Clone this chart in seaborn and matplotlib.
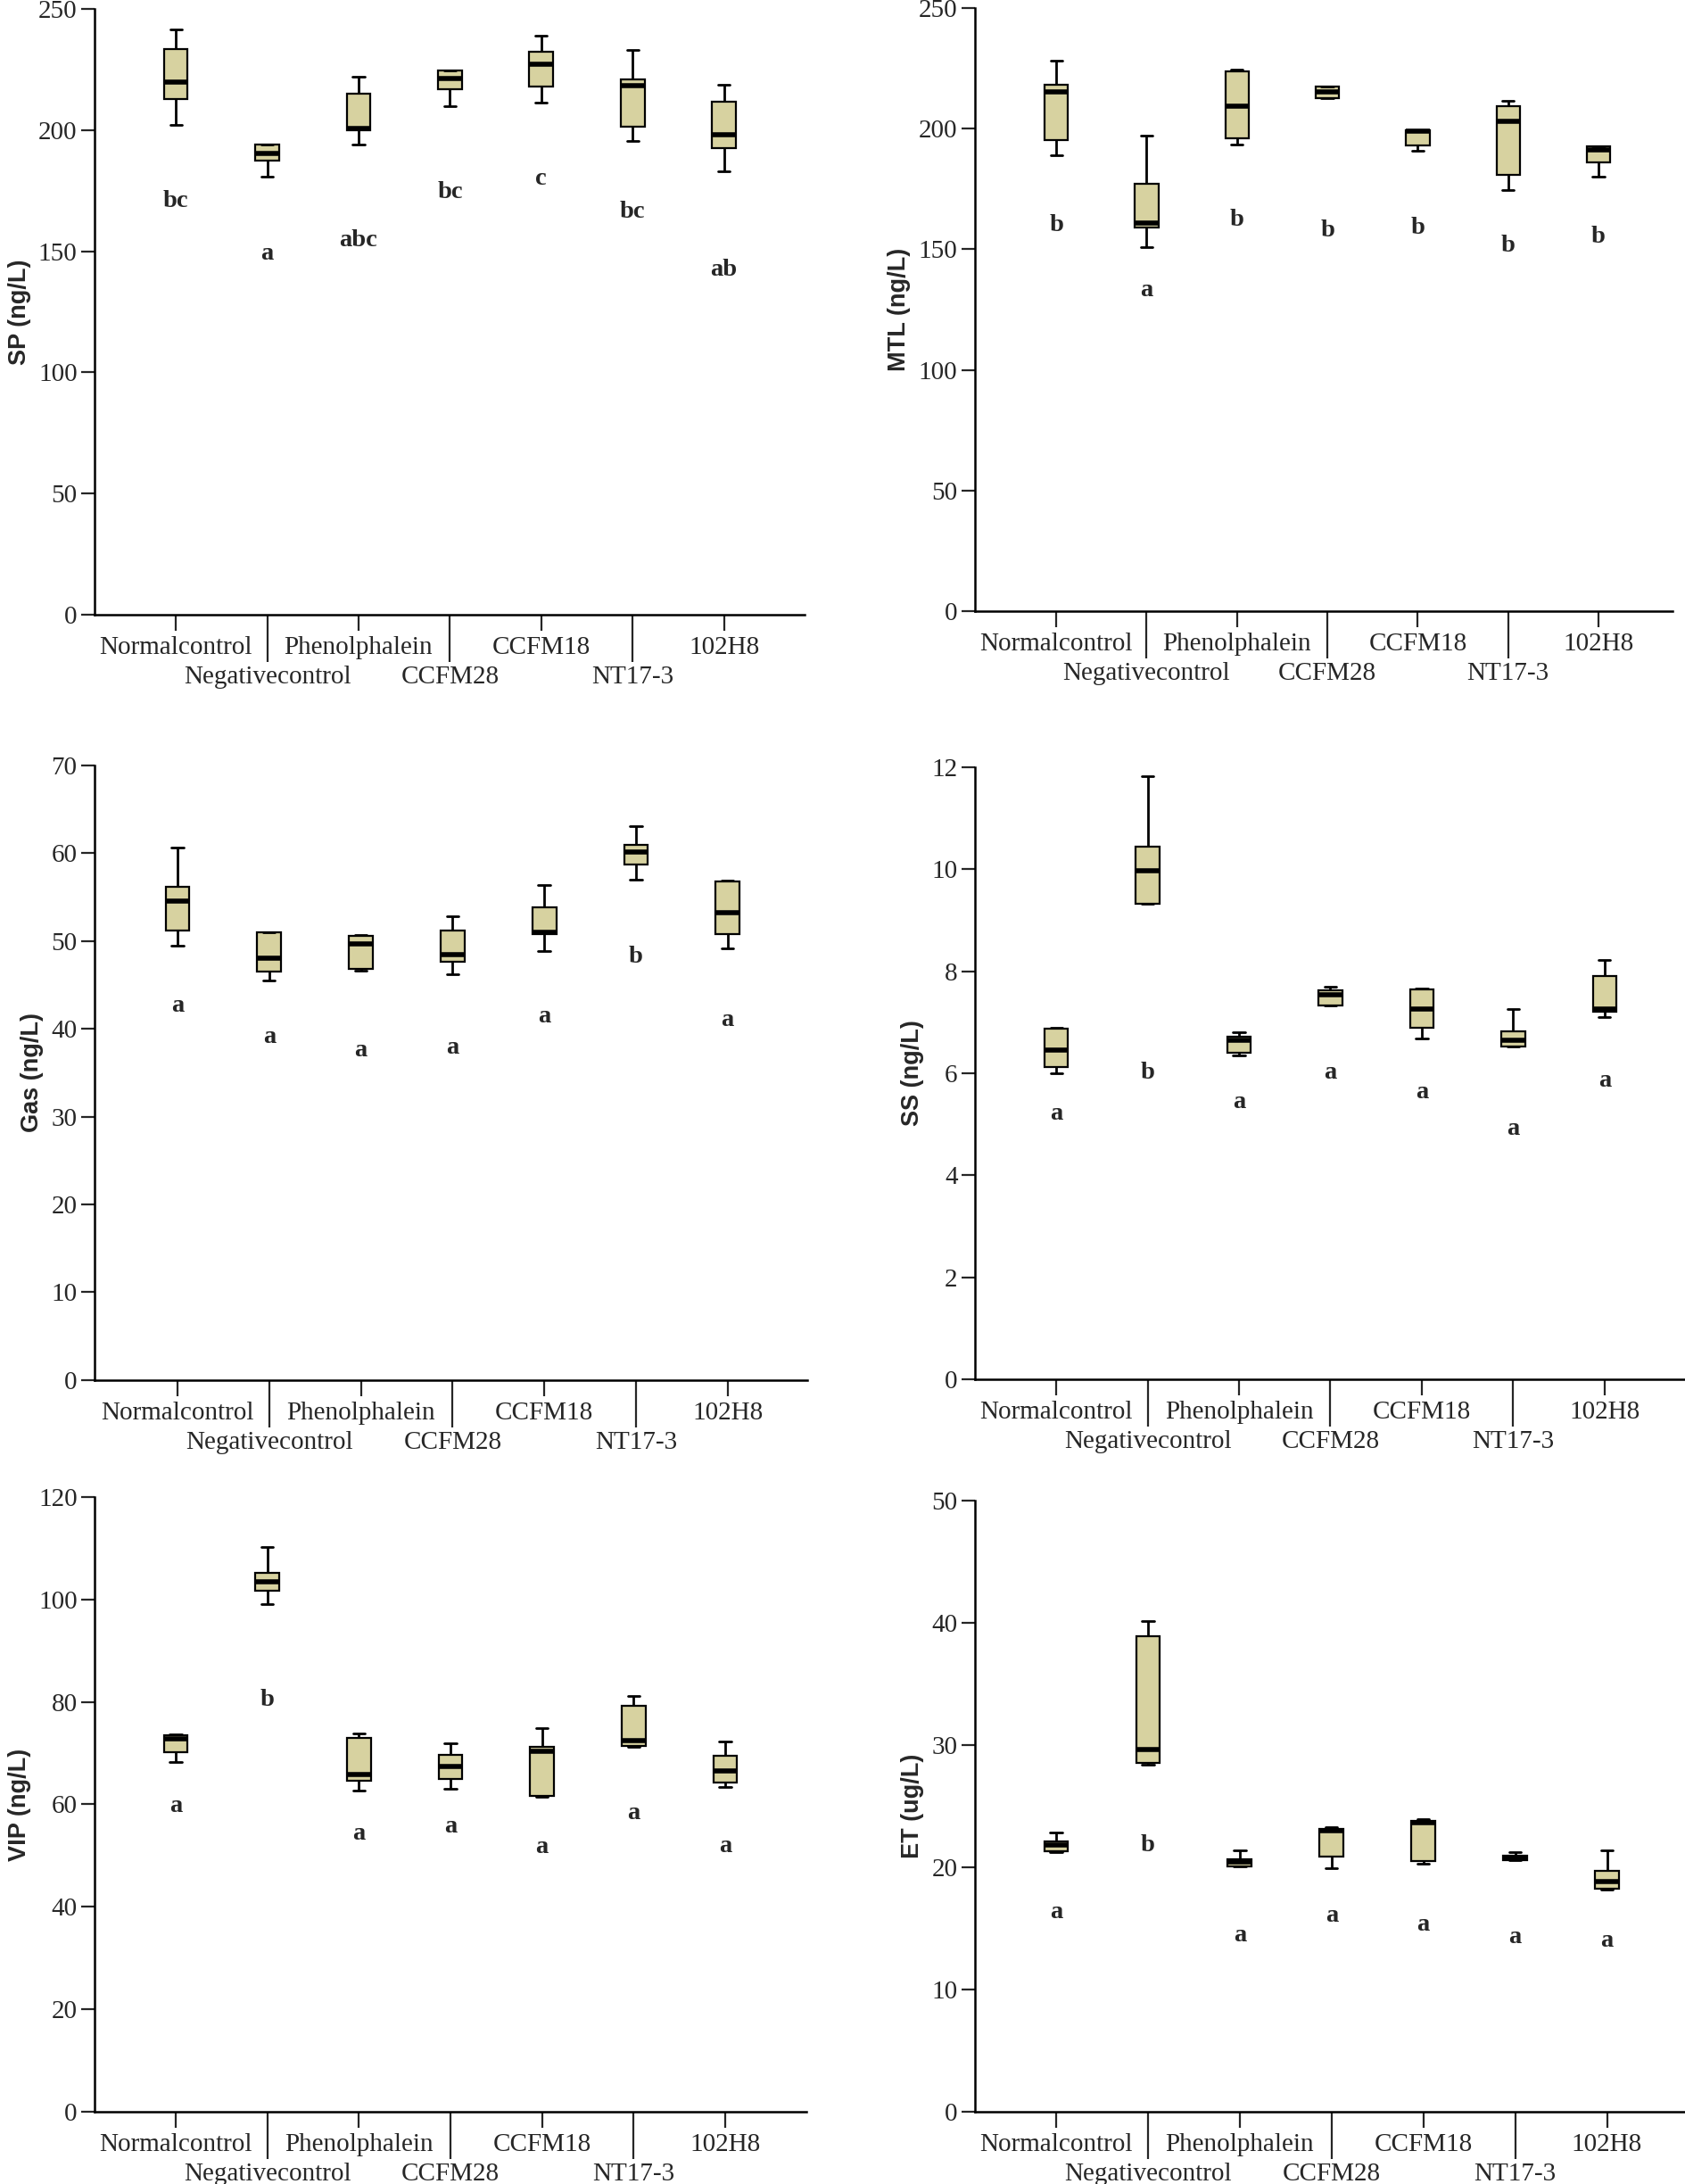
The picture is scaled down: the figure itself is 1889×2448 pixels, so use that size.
import numpy as np
import pandas as pd
import seaborn as sns
import matplotlib.pyplot as plt

groups = ["Normalcontrol", "Negativecontrol", "Phenolphalein", "CCFM28",
          "CCFM18", "NT17-3", "102H8"]

# per group: lower whisker, Q1, median, Q3, upper whisker
sp_vals = [[202.0, 212.7, 220.0, 233.6, 241.7],
           [180.7, 187.3, 190.3, 193.9, 193.9],
           [194.2, 200.0, 200.5, 215.0, 221.9],
           [209.9, 217.0, 221.4, 224.6, 224.6],
           [211.2, 218.0, 227.2, 232.3, 238.9],
           [195.6, 201.4, 218.5, 221.0, 233.0],
           [183.1, 192.7, 198.2, 211.6, 218.9]]
sp_letters = ["bc", "a", "abc", "bc", "c", "bc", "ab"]
sp_letter_y = [170.5, 148.8, 154.5, 174.3, 179.9, 166.2, 142.2]

mtl_vals = [[189.1, 195.1, 215.3, 218.3, 228.2],
            [150.9, 158.9, 161.0, 177.3, 197.0],
            [193.6, 196.1, 209.2, 223.6, 224.6],
            [212.6, 212.6, 215.3, 217.5, 217.5],
            [190.8, 193.1, 198.9, 199.5, 199.5],
            [174.5, 180.9, 203.1, 209.4, 211.5],
            [180.1, 186.0, 191.2, 192.7, 192.7]]
mtl_letters = ["b", "a", "b", "b", "b", "b", "b"]
mtl_letter_y = [160.0, 132.9, 162.3, 157.9, 158.9, 151.5, 155.1]

gas_vals = [[49.5, 51.2, 54.5, 56.2, 60.6],
            [45.5, 46.5, 48.0, 51.0, 51.0],
            [46.6, 46.8, 49.7, 50.6, 50.7],
            [46.2, 47.6, 48.4, 51.2, 52.8],
            [48.8, 50.8, 51.0, 53.8, 56.4],
            [57.0, 58.7, 60.1, 60.9, 63.1],
            [49.2, 50.8, 53.2, 56.8, 56.9]]
gas_letters = ["a", "a", "a", "a", "a", "b", "a"]
gas_letter_y = [42.6, 39.0, 37.5, 37.8, 41.4, 48.2, 41.0]

ss_vals = [[6.00, 6.12, 6.46, 6.87, 6.89],
           [9.32, 9.32, 9.97, 10.44, 11.82],
           [6.35, 6.41, 6.64, 6.71, 6.81],
           [7.32, 7.32, 7.53, 7.62, 7.69],
           [6.68, 6.89, 7.25, 7.65, 7.66],
           [6.52, 6.52, 6.65, 6.83, 7.25],
           [7.10, 7.21, 7.26, 7.91, 8.22]]
ss_letters = ["a", "b", "a", "a", "a", "a", "a"]
ss_letter_y = [5.2, 6.0, 5.43, 6.01, 5.62, 4.9, 5.85]

vip_vals = [[68.2, 70.2, 72.8, 73.5, 73.7],
            [99.1, 101.7, 103.4, 105.2, 110.2],
            [62.6, 64.6, 65.8, 73.0, 73.9],
            [63.1, 65.0, 67.3, 69.7, 72.0],
            [61.5, 61.6, 70.4, 71.2, 74.9],
            [71.2, 71.4, 72.5, 79.3, 81.1],
            [63.4, 64.2, 66.5, 69.4, 72.2]]
vip_letters = ["a", "b", "a", "a", "a", "a", "a"]
vip_letter_y = [59.6, 80.4, 54.3, 55.6, 51.7, 58.3, 51.8]

et_vals = [[21.27, 21.34, 21.79, 22.09, 22.84],
           [28.40, 28.54, 29.66, 38.88, 40.15],
           [20.04, 20.04, 20.41, 20.67, 21.42],
           [19.96, 20.86, 22.99, 23.13, 23.28],
           [20.30, 20.52, 23.66, 23.81, 23.96],
           [20.60, 20.60, 20.78, 20.97, 21.27],
           [18.17, 18.28, 18.81, 19.74, 21.42]]
et_letters = ["a", "b", "a", "a", "a", "a", "a"]
et_letter_y = [16.3, 21.8, 14.4, 16.0, 15.3, 14.3, 13.96]

panels = [
    ("SP (ng/L)", sp_vals, sp_letters, sp_letter_y, 250, 50,
     [0.0561, 0.7185, 0.421, 0.2774], (-0.89, 6.88)),
    ("MTL (ng/L)", mtl_vals, mtl_letters, mtl_letter_y, 250, 50,
     [0.5783, 0.7202, 0.4138, 0.2761], (-0.90, 6.82)),
    ("Gas (ng/L)", gas_vals, gas_letters, gas_letter_y, 70, 10,
     [0.0561, 0.3681, 0.4228, 0.2815], (-0.905, 6.87)),
    ("SS (ng/L)", ss_vals, ss_letters, ss_letter_y, 12, 2,
     [0.5783, 0.3685, 0.4217, 0.2802], (-0.89, 6.89)),
    ("VIP (ng/L)", vip_vals, vip_letters, vip_letter_y, 120, 20,
     [0.0561, 0.0331, 0.4222, 0.2815], (-0.886, 6.886)),
    ("ET (ug/L)", et_vals, et_letters, et_letter_y, 50, 10,
     [0.5783, 0.0331, 0.4217, 0.2798], (-0.885, 6.86)),
]

sns.set_style("white")
plt.rcParams["font.family"] = ["Liberation Serif", "DejaVu Serif"]

fig = plt.figure(figsize=(18.9, 24.48), dpi=100)

for ylabel, vals, letters, letter_y, ymax, ystep, rect, xlim in panels:
    ax = fig.add_axes(rect)
    df = pd.DataFrame({
        "group": np.repeat(groups, 5),
        "value": np.concatenate(vals),
    })
    sns.boxplot(data=df, x="group", y="value", order=groups, ax=ax,
                color="#D7D2A0", saturation=1, width=0.26, whis=(0, 100),
                linecolor="black", linewidth=1.6,
                medianprops={"linewidth": 4.0, "color": "black"},
                capprops={"linewidth": 2.0},
                whiskerprops={"linewidth": 2.0})

    # significance letters under each box
    for i, (lt, ly) in enumerate(zip(letters, letter_y)):
        ax.text(i, ly, lt, ha="center", va="center", fontsize=20.5,
                fontweight="bold")

    ax.set_xlim(*xlim)
    ax.set_ylim(0, ymax)
    ax.set_yticks(np.arange(0, ymax + ystep / 2, ystep))
    # staggered category labels: odd ones on a second row with long ticks
    ax.set_xticks([0, 2, 4, 6], [groups[k] for k in [0, 2, 4, 6]])
    ax.set_xticks([1, 3, 5], [groups[k] for k in [1, 3, 5]], minor=True)
    ax.tick_params(axis="x", which="major", length=13, width=1.6, pad=4,
                   labelsize=21, direction="out", bottom=True)
    ax.tick_params(axis="x", which="minor", length=38, width=1.6, pad=3,
                   labelsize=21, direction="out", bottom=True)
    ax.tick_params(axis="y", length=11, width=1.6, pad=3, labelsize=21,
                   direction="out", left=True)
    for s in ["top", "right"]:
        ax.spines[s].set_visible(False)
    for s in ["left", "bottom"]:
        ax.spines[s].set_linewidth(1.8)
        ax.spines[s].set_color("black")
    ax.set_xlabel("")
    ax.set_ylabel(ylabel, fontsize=19.5, fontweight="bold",
                  family=["Liberation Sans", "DejaVu Sans"], labelpad=6)

fig.savefig("out.png", dpi=100)
